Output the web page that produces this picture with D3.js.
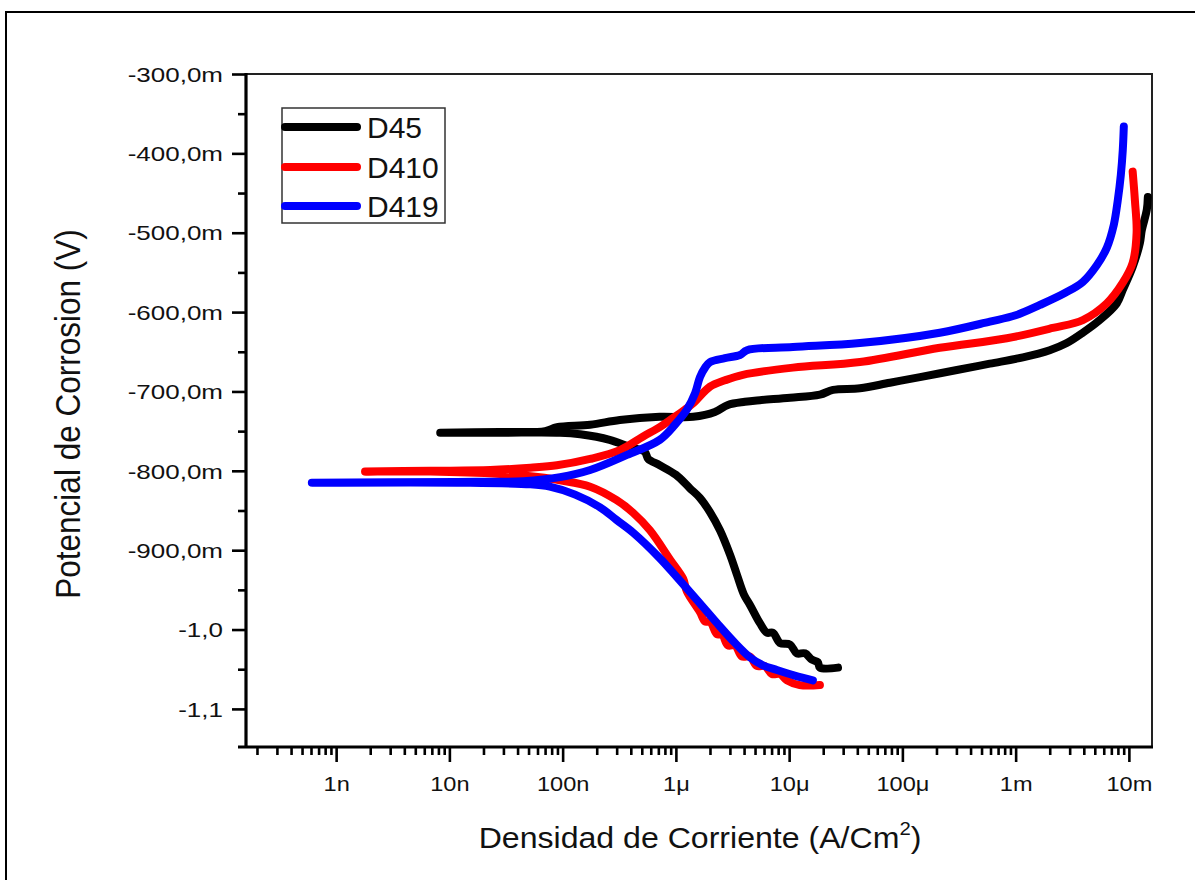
<!DOCTYPE html>
<html>
<head>
<meta charset="utf-8">
<script src="https://cdn.jsdelivr.net/npm/d3@7"></script>
<style>
  html, body { margin: 0; padding: 0; background: #fff; }
  svg { display: block; }
  text { font-family: "Liberation Sans", Arial, sans-serif; fill: #111; }
</style>
</head>
<body>
<svg id="chart" width="1195" height="880"></svg>
<script>
// ---- data: [current density (A/cm²), potential (V)] ----
const d45 = [
  [2.70e-5,-1.048],[1.87e-5,-1.048],[1.79e-5,-1.041],[1.59e-5,-1.038],[1.38e-5,-1.030],[1.17e-5,-1.030],
  [1.02e-5,-1.019],[8.30e-6,-1.017],[7.19e-6,-1.004],[6.37e-6,-1.004],[5.52e-6,-0.992],[4.51e-6,-0.969],
  [3.99e-6,-0.956],[3.46e-6,-0.931],[3.01e-6,-0.906],[2.45e-6,-0.875],[2.00e-6,-0.852],[1.63e-6,-0.834],
  [1.33e-6,-0.822],[1.00e-6,-0.805],[7.2e-7,-0.793],[5.7e-7,-0.785],[5.3e-7,-0.776],[3.9e-7,-0.770],
  [2.6e-7,-0.761],[1.43e-7,-0.754],[9.5e-8,-0.752],[2.8e-8,-0.752],[8.3e-9,-0.752],[2.8e-8,-0.751],
  [7.0e-8,-0.750],[8.9e-8,-0.745],[1.75e-7,-0.742],[3.2e-7,-0.736],[7.2e-7,-0.732],[1.42e-6,-0.732],
  [2.21e-6,-0.726],[2.88e-6,-0.717],[4.07e-6,-0.713],[5.52e-6,-0.711],[1.02e-5,-0.708],[1.87e-5,-0.704],
  [2.44e-5,-0.698],[4.22e-5,-0.696],[7.76e-5,-0.689],[1.43e-4,-0.682],[3.03e-4,-0.673],[5.92e-4,-0.665],
  [1.16e-3,-0.657],[2.0e-3,-0.648],[2.83e-3,-0.639],[3.92e-3,-0.626],[5.53e-3,-0.610],[7.82e-3,-0.589],
  [8.83e-3,-0.572],[1.08e-2,-0.543],[1.25e-2,-0.513],[1.30e-2,-0.497],[1.44e-2,-0.471],[1.47e-2,-0.455]
];
const d410 = [
  [1.87e-5,-1.070],[1.24e-5,-1.070],[9.57e-6,-1.064],[8.30e-6,-1.056],[7.05e-6,-1.056],[6.11e-6,-1.046],
  [5.20e-6,-1.046],[4.51e-6,-1.034],[3.83e-6,-1.034],[3.33e-6,-1.020],[2.88e-6,-1.020],[2.55e-6,-1.006],
  [2.31e-6,-1.006],[2.0e-6,-0.990],[1.81e-6,-0.990],[1.63e-6,-0.978],[1.25e-6,-0.952],[1.16e-6,-0.936],
  [8.9e-7,-0.912],[5.9e-7,-0.875],[4.2e-7,-0.853],[3.0e-7,-0.837],[1.75e-7,-0.820],[9.5e-8,-0.812],
  [6.3e-8,-0.808],[2.8e-8,-0.804],[6.8e-9,-0.801],[1.8e-9,-0.801],[6.8e-9,-0.800],[2.3e-8,-0.799],
  [5.2e-8,-0.796],[8.9e-8,-0.793],[1.75e-7,-0.785],[3.2e-7,-0.774],[5.1e-7,-0.757],[7.2e-7,-0.745],
  [8.9e-7,-0.736],[1.20e-6,-0.723],[1.42e-6,-0.715],[2.0e-6,-0.694],[2.71e-6,-0.686],[3.91e-6,-0.679],
  [1.08e-5,-0.670],[4.22e-5,-0.663],[2.14e-4,-0.645],[8.36e-4,-0.633],[2.13e-3,-0.620],[3.92e-3,-0.610],
  [6.38e-3,-0.589],[8.83e-3,-0.563],[1.08e-2,-0.538],[1.17e-2,-0.500],[1.13e-2,-0.459],[1.08e-2,-0.423]
];
const d419 = [
  [1.62e-5,-1.064],[1.12e-5,-1.058],[7.80e-6,-1.051],[5.87e-6,-1.045],[4.51e-6,-1.035],[3.33e-6,-1.017],
  [2.31e-6,-0.992],[1.63e-6,-0.967],[1.02e-6,-0.934],[7.2e-7,-0.910],[4.2e-7,-0.878],[3.0e-7,-0.862],
  [2.14e-7,-0.846],[1.29e-7,-0.830],[7.7e-8,-0.820],[5.2e-8,-0.817],[1.17e-8,-0.815],[6.1e-10,-0.815],
  [1.17e-8,-0.814],[4.5e-8,-0.813],[9.5e-8,-0.808],[1.75e-7,-0.799],[3.7e-7,-0.780],[7.2e-7,-0.761],
  [9.8e-7,-0.742],[1.25e-6,-0.723],[1.48e-6,-0.702],[1.63e-6,-0.682],[1.81e-6,-0.670],[2.0e-6,-0.663],
  [2.71e-6,-0.658],[3.68e-6,-0.654],[4.25e-6,-0.648],[1.08e-5,-0.644],[4.22e-5,-0.639],[2.14e-4,-0.626],
  [5.92e-4,-0.612],[1.0e-3,-0.604],[1.64e-3,-0.591],[2.72e-3,-0.576],[3.92e-3,-0.562],[5.21e-3,-0.541],
  [6.38e-3,-0.519],[7.36e-3,-0.490],[7.98e-3,-0.459],[8.49e-3,-0.427],[8.83e-3,-0.396],[9.02e-3,-0.366]
];
const seriesNames = ["D45", "D410", "D419"];
const seriesColors = ["#000000", "#ff0000", "#0000ff"];

const currentTicks = [1e-9, 1e-8, 1e-7, 1e-6, 1e-5, 1e-4, 1e-3, 1e-2];
const currentTickLabels = ["1n", "10n", "100n", "1\u03bc", "10\u03bc", "100\u03bc", "1m", "10m"];
const potentialTicks = [-0.3, -0.4, -0.5, -0.6, -0.7, -0.8, -0.9, -1.0, -1.1];
const potentialTickLabels = ["-300,0m", "-400,0m", "-500,0m", "-600,0m", "-700,0m", "-800,0m", "-900,0m", "-1,0", "-1,1"];
const potentialMinorTicks = [-0.35, -0.45, -0.55, -0.65, -0.75, -0.85, -0.95, -1.05];

// ---- layout ----
const L = 246, R = 1152, T = 74, B = 747;
const svg = d3.select("#chart");

// outer frame
svg.append("path").attr("d", "M6,880V12H1195")
  .attr("fill", "none").attr("stroke", "#000").attr("stroke-width", 2);

const x = d3.scaleLog().domain([1.6e-10, 1.6e-2]).range([L, R]);
const y = d3.scaleLinear().domain([-1.148, -0.3]).range([B, T]);

// minor x ticks (2..9 × each decade within domain)
const currentMinorTicks = [];
for (let e = -10; e <= -2; e++) {
  for (let m = 2; m <= 9; m++) {
    const v = m * Math.pow(10, e);
    if (v > x.domain()[0] && v < x.domain()[1]) currentMinorTicks.push(v);
  }
}

// plot frame top/right
svg.append("path").attr("d", `M${L},${T}H${R}V${B}`)
  .attr("fill", "none").attr("stroke", "#222").attr("stroke-width", 2);

// Y axis
const yMajor = svg.append("g").attr("transform", `translate(${L},0)`)
  .call(d3.axisLeft(y).tickValues(potentialTicks).tickSize(14)
    .tickFormat((d, i) => potentialTickLabels[i]));
const yMinor = svg.append("g").attr("transform", `translate(${L},0)`)
  .call(d3.axisLeft(y).tickValues(potentialMinorTicks).tickSize(8).tickFormat(""));
// X axis
const xMajor = svg.append("g").attr("transform", `translate(0,${B})`)
  .call(d3.axisBottom(x).tickValues(currentTicks).tickSize(15)
    .tickFormat((d, i) => currentTickLabels[i]));
const xMinor = svg.append("g").attr("transform", `translate(0,${B})`)
  .call(d3.axisBottom(x).tickValues(currentMinorTicks).tickSize(8).tickFormat(""));

[yMajor, yMinor, xMajor, xMinor].forEach(g => {
  g.select(".domain").remove();
  g.selectAll(".tick line").attr("stroke", "#000").attr("stroke-width", 2.6);
});
yMajor.selectAll(".tick text")
  .attr("x", -23 / 1.3).attr("dy", "0.36em")
  .attr("transform", "scale(1.3,1)")
  .style("font-size", "20px").style("font-family", "'Liberation Sans', Arial, sans-serif")
  .attr("fill", "#111");
xMajor.selectAll(".tick text")
  .attr("y", 44).attr("dy", 0)
  .attr("transform", "scale(1.15,1)")
  .style("font-size", "20.5px").style("font-family", "'Liberation Sans', Arial, sans-serif")
  .attr("fill", "#111");

// axis lines (left & bottom, thick)
svg.append("line").attr("x1", L).attr("x2", L).attr("y1", T - 1).attr("y2", B + 1)
  .attr("stroke", "#000").attr("stroke-width", 3.2);
svg.append("line").attr("x1", L - 8).attr("x2", R + 1).attr("y1", B).attr("y2", B)
  .attr("stroke", "#000").attr("stroke-width", 3.2);

// curves
const line = d3.line()
  .x(d => x(d[0])).y(d => y(d[1]))
  .curve(d3.curveCatmullRom.alpha(0.5));
[d45, d410, d419].forEach((data, i) => {
  svg.append("path").datum(data)
    .attr("d", line)
    .attr("fill", "none")
    .attr("stroke", seriesColors[i])
    .attr("stroke-width", 8)
    .attr("stroke-linecap", "round")
    .attr("stroke-linejoin", "round");
});

// legend
const lg = svg.append("g");
lg.append("rect").attr("x", 282).attr("y", 108).attr("width", 163).attr("height", 115)
  .attr("fill", "#fff").attr("stroke", "#333").attr("stroke-width", 1.5);
const legendY = [127, 167, 206];
seriesNames.forEach((n, i) => {
  lg.append("line").attr("x1", 285).attr("x2", 357)
    .attr("y1", legendY[i]).attr("y2", legendY[i])
    .attr("stroke", seriesColors[i]).attr("stroke-width", 8)
    .attr("stroke-linecap", "round");
  lg.append("text").attr("x", 367).attr("y", legendY[i] + 10.5)
    .style("font-size", "30px").text(n);
});

// axis titles
const xt = svg.append("text")
  .attr("transform", "translate(700,848) scale(1.07,1)")
  .attr("text-anchor", "middle")
  .style("font-size", "30px");
xt.append("tspan").text("Densidad de Corriente (A/Cm");
xt.append("tspan").attr("dy", -13).style("font-size", "19px").text("2");
xt.append("tspan").attr("dy", 13).text(")");

svg.append("text")
  .attr("transform", "translate(80,414) rotate(-90) scale(1,1.1)")
  .attr("text-anchor", "middle")
  .style("font-size", "31.5px")
  .text("Potencial de Corrosion (V)");
</script>
</body>
</html>
